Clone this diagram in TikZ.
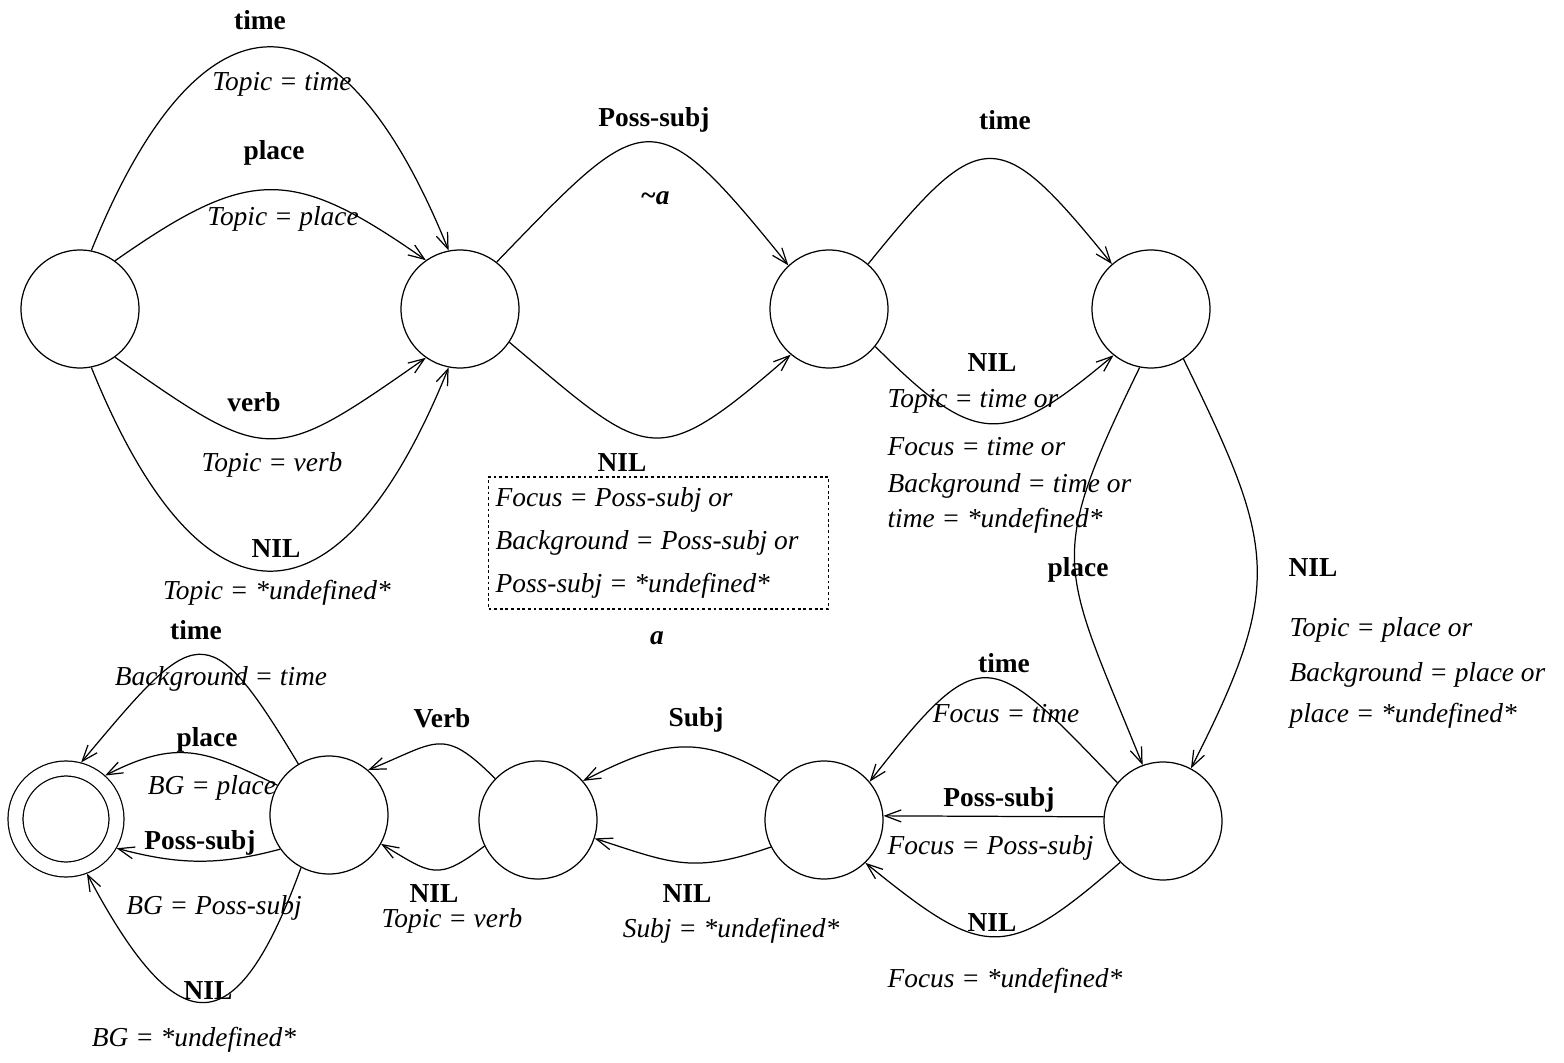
\documentclass[tikz,border=0pt]{standalone}
\usepackage{fontspec}
\setmainfont{Liberation Serif}
\usetikzlibrary{arrows.meta}

\begin{document}
\begin{tikzpicture}[x=0.02cm, y=0.02cm, line width=0.7pt,
    state/.style={circle, draw, minimum size=2.36cm, inner sep=0pt},
    accept/.style={circle, draw, double, double distance=0.275cm, minimum size=2.02cm, inner sep=0pt, outer sep=0.16cm},
    trans/.style={-{Straight Barb[length=3.2mm,width=2.4mm]}},
    lbl/.style={inner sep=0pt, text height=11pt, text depth=0pt, font=\fontsize{15.6}{18}\selectfont\bfseries},
    cond/.style={inner sep=0pt, text height=11pt, text depth=0pt, font=\fontsize{15.6}{18}\selectfont\itshape},
    condbox/.style={draw, dash pattern=on 1.6pt off 1.6pt, anchor=west, align=flush left, text width=6.52cm,
      inner xsep=0.14cm, inner ysep=0pt, minimum height=2.64cm, font=\fontsize{15.6}{24.7}\selectfont\itshape}]
    \useasboundingbox (0,0) rectangle (1564,1062);

    % states, top row
    \node[state] (s1) at (80,753) {};
    \node[state] (s2) at (460,753) {};
    \node[state] (s3) at (829,753) {};
    \node[state] (s4) at (1151,753) {};
    % states, bottom row
    \node[state] (s5) at (1163,241) {};
    \node[state] (s6) at (824,242) {};
    \node[state] (s7) at (538,242) {};
    \node[state] (s8) at (329,247) {};
    \node[accept] (fin) at (66,243) {};

    % s1 -> s2
    \draw[trans] (s1.79) to[out=68,in=112,looseness=2.1] (s2.101);
    \draw[trans] (s1.54) to[out=35,in=145,looseness=1.35] (s2.125);
    \draw[trans] (s1.-54) to[out=-35,in=-145,looseness=1.55] (s2.-125);
    \draw[trans] (s1.-79) to[out=-68,in=-112,looseness=2.1] (s2.-101);
    \node[lbl] (l1) at (260,1042) {time};
    \node[cond] (c1) at (282,981) {Topic = time};
    \node[lbl] (l2) at (274,912) {place};
    \node[cond] (c2) at (283,846) {Topic = place};
    \node[lbl] (l3) at (254,660) {verb};
    \node[cond] (c3) at (272,600) {Topic = verb};
    \node[lbl] (l4) at (276,514) {NIL};
    \node[cond] (c4) at (277,472) {Topic = *undefined*};

    % s2 -> s3
    \draw[trans] (s2.52) to[out=46,in=129,looseness=1.9] (s3.133);
    \draw[trans] (s2.-34) to[out=-40,in=-139,looseness=1.66] (s3.-130);
    \node[lbl] (l5) at (654,945) {Poss-subj};
    \node[lbl] (c5) at (655,867) {\itshape\textasciitilde a};
    \node[lbl] (l6) at (622,600) {NIL};
    \node[condbox] (c6) at (488,519) {Focus = Poss-subj or\\Background = Poss-subj or\\Poss-subj = *undefined*};
    \node[lbl] (a6) at (657,427) {\itshape a};

    % s3 -> s4
    \draw[trans] (s3.49) to[out=51,in=129,looseness=1.9] (s4.131);
    \draw[trans] (s3.-39) to[out=-45,in=-140,looseness=1.54] (s4.-129);
    \node[lbl] (l7) at (1005,942) {time};
    \node[lbl] (l8) at (992,700) {NIL};
    \node[cond, anchor=west] (c8a) at (887,664) {Topic = time or};
    \node[cond, anchor=west] (c8b) at (887,616) {Focus = time or};
    \node[cond, anchor=west] (c8c) at (887,579) {Background = time or};
    \node[cond, anchor=west] (c8d) at (887,544) {time = *undefined*};

    % s4 -> s5
    \draw[trans] (s4.-101) to[out=-116,in=112,looseness=1.4] (s5.110);
    \draw[trans] (s4.-57) to[out=-64,in=63,looseness=1.3] (s5.62);
    \node[lbl] (l9) at (1078,495) {place};
    \node[lbl] (l10) at (1313,495) {NIL};
    \node[cond, anchor=west] (c10a) at (1289,435) {Topic = place or};
    \node[cond, anchor=west] (c10b) at (1289,390) {Background = place or};
    \node[cond, anchor=west] (c10c) at (1289,349) {place = *undefined*};

    % s5 -> s6
    \draw[trans] (s5.140) to[out=134,in=52,looseness=1.9] (s6.40);
    \draw[trans] (s5.176) -- (s6.4);
    \draw[trans] (s5.-136) to[out=-139,in=-39,looseness=1.54] (s6.-46);
    \node[lbl] (l11) at (1004,399) {time};
    \node[cond] (c11) at (1006,349) {Focus = time};
    \node[lbl] (l12) at (999,265) {Poss-subj};
    \node[cond, anchor=west] (c12) at (887,217) {Focus = Poss-subj};
    \node[lbl] (l13) at (992,140) {NIL};
    \node[cond, anchor=west] (c13) at (887,84) {Focus = *undefined*};

    % s6 -> s7
    \draw[trans] (s6.139) to[out=148,in=27,looseness=1.2] (s7.41);
    \draw[trans] (s6.-153) to[out=-161,in=-18,looseness=1.2] (s7.-18);
    \node[lbl] (l14) at (696,345) {Subj};
    \node[lbl] (l15) at (687,169) {NIL};
    \node[cond] (c15) at (731,134) {Subj = *undefined*};

    % s7 -> s8
    \draw[trans] (s7.136) to[out=135,in=22,looseness=1.5] (s8.49);
    \draw[trans] (s7.-154) to[out=-143,in=-31,looseness=1.47] (s8.-29);
    \node[lbl] (l16) at (442,344) {Verb};
    \node[lbl] (l17) at (434,169) {NIL};
    \node[cond] (c17) at (452,144) {Topic = verb};

    % s8 -> final state
    \draw[trans] (s8.121) to[out=121,in=50,looseness=2.1] (fin.75);
    \draw[trans] (s8.150) to[out=154,in=27,looseness=1.2] (fin.48);
    \draw[trans] (s8.-145) to[out=-165,in=-15,looseness=1] (fin.-30);
    \draw[trans] (s8.-118) to[out=-110,in=-62,looseness=2.3] (fin.-69);
    \node[lbl] (l18) at (196,432) {time};
    \node[cond] (c18) at (221,386) {Background = time};
    \node[lbl] (l19) at (207,325) {place};
    \node[cond] (c19) at (212,277) {BG = place};
    \node[lbl] (l20) at (200,222) {Poss-subj};
    \node[cond] (c20) at (214,157) {BG = Poss-subj};
    \node[lbl] (l21) at (208,72) {NIL};
    \node[cond] (c21) at (194,25) {BG = *undefined*};
\end{tikzpicture}
\end{document}
